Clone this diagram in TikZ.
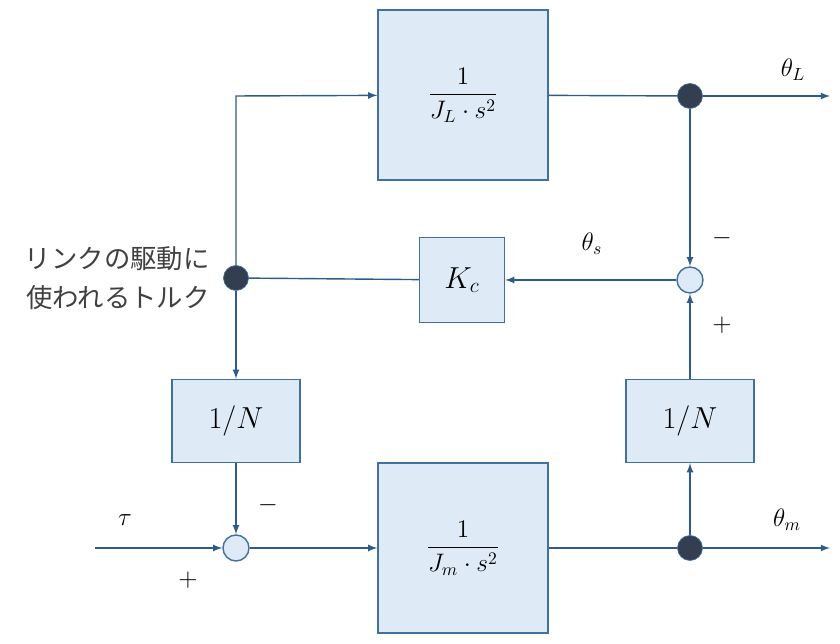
\documentclass[tikz,border=0pt]{standalone}
\usepackage{fontspec}
\newfontfamily\cjk{Noto Sans CJK JP}
\usetikzlibrary{positioning}
\definecolor{boxfill}{HTML}{DEEBF7}
\definecolor{boxline}{HTML}{41719C}
\definecolor{wire}{HTML}{2E5C8A}
\definecolor{dotfill}{HTML}{333F50}
\begin{document}
\begin{tikzpicture}[x=0.02cm,y=-0.02cm,
  blk/.style={draw=boxline, thick, fill=boxfill, minimum width=#1, minimum height=#1, inner sep=0pt},
  blk/.default=3.4cm,
  nbox/.style={draw=boxline, thick, fill=boxfill, minimum width=2.56cm, minimum height=1.66cm, font=\LARGE},
  sum/.style={circle, draw=boxline, thick, fill=boxfill, minimum size=0.52cm, inner sep=0pt},
  dot/.style={circle, draw=boxline, fill=dotfill, minimum size=0.5cm, inner sep=0pt},
  sig/.style={wire, thick, -latex},
  lbl/.style={font=\Large}]
  \useasboundingbox (0,0) rectangle (840,644);
  % blocks
  \node[blk] (JL) at (463,95) {\Large$\displaystyle\frac{1}{J_L\cdot s^2}$};
  \node[blk=1.7cm] (Kc) at (462,280) {\LARGE$K_c$};
  \node[nbox] (NL) at (236,421) {$1/N$};
  \node[nbox] (NR) at (690,421) {$1/N$};
  \node[blk] (Jm) at (463,548) {\Large$\displaystyle\frac{1}{J_m\cdot s^2}$};
  % junctions
  \node[dot] (dL) at (236,278) {};
  \node[dot] (dT) at (690,96) {};
  \node[dot] (dB) at (690,548) {};
  \node[sum] (sR) at (690,280) {};
  \node[sum] (sL) at (236,548) {};
  \coordinate (corner) at (236,96);
  \coordinate (in) at (95,548);
  \coordinate (outL) at (830,96);
  \coordinate (outm) at (830,548);
  % connectors
  \draw[sig] (dL) -- (corner) -- (JL);
  \draw[wire, thick] (JL) -- (dT);
  \draw[sig] (dT) -- (outL);
  \draw[sig] (dT) -- (sR);
  \draw[sig] (sR) -- (Kc);
  \draw[wire, thick] (Kc) -- (dL);
  \draw[sig] (dL) -- (NL);
  \draw[sig] (NL) -- (sL);
  \draw[sig] (in) -- (sL);
  \draw[sig] (sL) -- (Jm);
  \draw[wire, thick] (Jm) -- (dB);
  \draw[sig] (dB) -- (outm);
  \draw[sig] (dB) -- (NR);
  \draw[sig] (NR) -- (sR);
  % labels
  \node[lbl] at (793,70) {$\theta_L$};
  \node[lbl] at (592,244) {$\theta_s$};
  \node[lbl] at (787,520) {$\theta_m$};
  \node[lbl] at (125,520) {$\tau$};
  \node[lbl] at (722,238) {$-$};
  \node[lbl] at (722,325) {$+$};
  \node[lbl] at (268,505) {$-$};
  \node[lbl] at (188,580) {$+$};
  \node[font=\cjk\fontsize{15}{22}\selectfont, text=black!75, align=right, left=0.15cm of dL] {リンクの駆動に\\使われるトルク};
\end{tikzpicture}
\end{document}
